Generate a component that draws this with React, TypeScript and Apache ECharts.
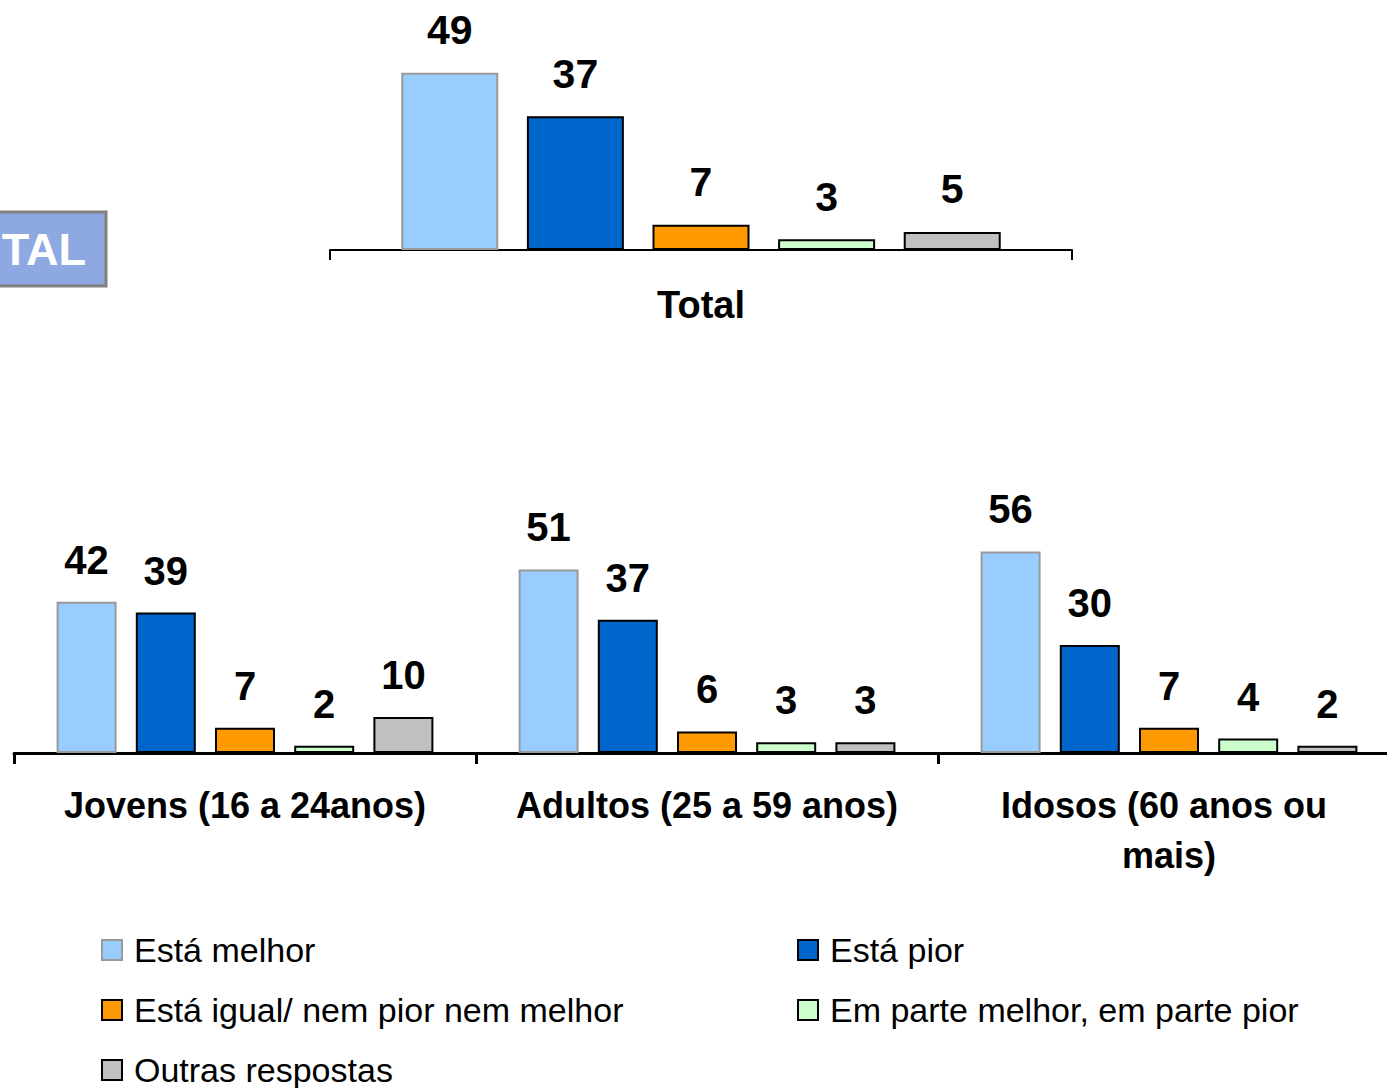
import React, { useEffect, useRef } from "react";
import * as echarts from "echarts";

const seriesNames = [
  "Está melhor",
  "Está pior",
  "Está igual/ nem pior nem melhor",
  "Em parte melhor, em parte pior",
  "Outras respostas",
];
const topCategories = ["Total"];
const bottomCategories = [
  "Jovens (16 a 24anos)",
  "Adultos (25 a 59 anos)",
  "Idosos (60 anos ou mais)",
];
const totalMelhor = [49];
const totalPior = [37];
const totalIgual = [7];
const totalEmParte = [3];
const totalOutras = [5];
const groupMelhor = [42, 51, 56];
const groupPior = [39, 37, 30];
const groupIgual = [7, 6, 7];
const groupEmParte = [2, 3, 4];
const groupOutras = [10, 3, 2];

const fills = ["#99CCFF", "#0066CC", "#FF9900", "#CCFFCC", "#C0C0C0"];
const borders = ["#999999", "#000000", "#000000", "#000000", "#000000"];
const FONT = "'Liberation Sans', Arial, sans-serif";

export default function App() {
  const ref = useRef<HTMLDivElement>(null);
  useEffect(() => {
    if (!ref.current) return;
    const chart = echarts.init(ref.current, undefined, { renderer: "svg" });
    const topData = [totalMelhor, totalPior, totalIgual, totalEmParte, totalOutras];
    const bottomData = [groupMelhor, groupPior, groupIgual, groupEmParte, groupOutras];

    const series: any[] = [];
    seriesNames.forEach((name, i) => {
      series.push({
        type: "bar",
        name,
        xAxisIndex: 0,
        yAxisIndex: 0,
        data: topData[i],
        barWidth: 97,
        barGap: "29.5%",
        itemStyle: { color: fills[i], borderColor: borders[i], borderWidth: 2 },
        label: {
          show: true,
          position: "top",
          distance: 22,
          color: "#000",
          fontFamily: FONT,
          fontWeight: "bold",
          fontSize: 41,
        },
      });
    });
    seriesNames.forEach((name, i) => {
      series.push({
        type: "bar",
        name,
        xAxisIndex: 1,
        yAxisIndex: 1,
        data: bottomData[i],
        barWidth: 60,
        barGap: "32%",
        itemStyle: { color: fills[i], borderColor: borders[i], borderWidth: 2 },
        label: {
          show: true,
          position: "top",
          distance: 22,
          color: "#000",
          fontFamily: FONT,
          fontWeight: "bold",
          fontSize: 40,
        },
      });
    });

    const legends = [
      { name: seriesNames[0], left: 96, top: 926 },
      { name: seriesNames[1], left: 792, top: 926 },
      { name: seriesNames[2], left: 96, top: 986 },
      { name: seriesNames[3], left: 792, top: 986 },
      { name: seriesNames[4], left: 96, top: 1046 },
    ].map((l) => ({
      left: l.left,
      top: l.top,
      data: [l.name],
      icon: "rect",
      itemWidth: 20,
      itemHeight: 20,
      textStyle: {
        fontFamily: FONT,
        fontSize: 34,
        color: "#000",
        lineHeight: 38,
        padding: [0, 0, 0, 7],
      },
    }));

    chart.setOption({
      animation: false,
      backgroundColor: "#fff",
      grid: [
        { left: 330, top: 33, width: 742, height: 217 },
        { left: 14, top: 537, width: 1386, height: 216 },
      ],
      xAxis: [
        {
          type: "category",
          gridIndex: 0,
          data: topCategories,
          axisLine: { lineStyle: { color: "#000", width: 2 } },
          axisTick: { show: true, length: 10, lineStyle: { color: "#000", width: 2 } },
          axisLabel: {
            margin: 36,
            color: "#000",
            fontFamily: FONT,
            fontWeight: "bold",
            fontSize: 38,
          },
        },
        {
          type: "category",
          gridIndex: 1,
          data: bottomCategories,
          axisLine: { lineStyle: { color: "#000", width: 3 } },
          axisTick: { show: true, length: 11, lineStyle: { color: "#000", width: 3 } },
          axisLabel: {
            margin: 27,
            color: "#000",
            fontFamily: FONT,
            fontWeight: "bold",
            fontSize: 36,
            lineHeight: 50,
            width: 400,
            overflow: "break",
            interval: 0,
          },
        },
      ],
      yAxis: [
        { type: "value", gridIndex: 0, min: 0, max: 60, show: false, splitLine: { show: false } },
        { type: "value", gridIndex: 1, min: 0, max: 60, show: false, splitLine: { show: false } },
      ],
      legend: legends,
      graphic: [
        {
          type: "rect",
          shape: { x: -10, y: 212, width: 116, height: 74 },
          style: { fill: "#8EA9E1", stroke: "#808080", lineWidth: 3 },
        },
        {
          type: "text",
          x: 86,
          y: 249,
          style: {
            text: "TAL",
            fill: "#fff",
            fontFamily: FONT,
            fontWeight: "bold",
            fontSize: 45,
            align: "right",
            verticalAlign: "middle",
          },
        },
      ],
      series,
    });
    return () => chart.dispose();
  }, []);
  return (
    <div
      style={{
        position: "fixed",
        left: 0,
        top: 0,
        width: 1387,
        height: 1088,
        overflow: "hidden",
        background: "#fff",
      }}
    >
      <div
        ref={ref}
        style={{ position: "absolute", left: 0, top: 0, width: 1400, height: 1088 }}
      />
    </div>
  );
}
